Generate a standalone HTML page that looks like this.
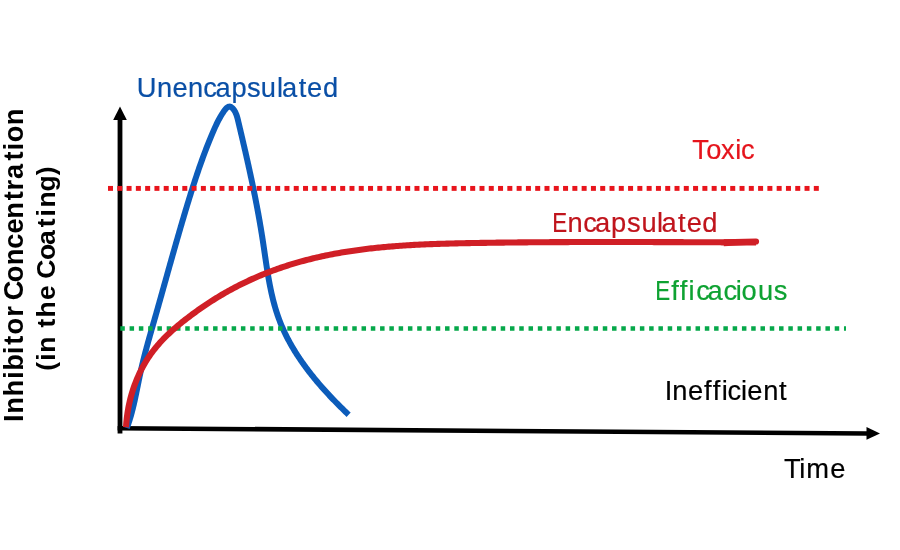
<!DOCTYPE html>
<html><head><meta charset="utf-8"><style>
html,body{margin:0;padding:0;background:#fff;}
svg{display:block;will-change:transform;}
text{font-family:"Liberation Sans",sans-serif;}
</style></head><body>
<svg width="900" height="550" viewBox="0 0 900 550">
<rect width="900" height="550" fill="#fff"/>
<line x1="120" y1="433.5" x2="120" y2="118" stroke="#000" stroke-width="4.8"/>
<polygon points="120,106.5 113.2,120 126.8,120" fill="#000"/>
<polygon points="117.6,425.9 867,431.2 867,435.8 117.6,430.5" fill="#000"/>
<polygon points="880,433.4 866.5,427.1 866.5,439.8" fill="#000"/>
<path d="M126.80 428.00 L127.28 426.72 L127.75 425.44 L128.21 424.15 L128.65 422.86 L129.08 421.57 L129.50 420.27 L129.91 418.97 L130.31 417.66 L130.69 416.36 L131.07 415.05 L131.44 413.73 L131.79 412.42 L132.14 411.10 L132.48 409.78 L132.82 408.46 L133.14 407.14 L133.46 405.81 L133.77 404.48 L134.08 403.15 L134.38 401.82 L134.68 400.49 L134.97 399.16 L135.25 397.83 L135.54 396.49 L135.82 395.16 L136.09 393.82 L136.37 392.49 L136.64 391.15 L136.91 389.81 L137.18 388.48 L137.45 387.14 L137.72 385.81 L137.99 384.47 L138.26 383.14 L138.53 381.80 L138.80 380.47 L139.08 379.13 L139.35 377.80 L139.63 376.47 L139.91 375.13 L140.20 373.80 L140.48 372.47 L140.77 371.14 L141.07 369.81 L141.37 368.49 L141.67 367.16 L141.98 365.83 L142.29 364.51 L142.61 363.18 L142.93 361.86 L143.25 360.53 L143.58 359.21 L143.91 357.89 L144.25 356.57 L144.58 355.25 L144.93 353.93 L145.27 352.61 L145.62 351.29 L145.97 349.97 L146.32 348.66 L146.67 347.34 L147.03 346.02 L147.39 344.71 L147.75 343.39 L148.11 342.08 L148.47 340.76 L148.84 339.45 L149.21 338.14 L149.58 336.82 L149.95 335.51 L150.32 334.20 L150.69 332.88 L151.06 331.57 L151.43 330.26 L151.81 328.95 L152.18 327.64 L152.56 326.32 L152.93 325.01 L153.31 323.70 L153.68 322.39 L154.06 321.08 L154.43 319.77 L154.81 318.45 L155.18 317.14 L155.55 315.83 L155.93 314.52 L156.30 313.21 L156.67 311.90 L157.04 310.58 L157.41 309.27 L157.78 307.96 L158.15 306.65 L158.52 305.34 L158.89 304.03 L159.26 302.71 L159.63 301.40 L160.00 300.09 L160.37 298.78 L160.74 297.47 L161.11 296.16 L161.48 294.84 L161.85 293.53 L162.21 292.22 L162.58 290.91 L162.95 289.60 L163.32 288.29 L163.69 286.97 L164.05 285.66 L164.42 284.35 L164.79 283.04 L165.16 281.73 L165.52 280.42 L165.89 279.10 L166.26 277.79 L166.63 276.48 L166.99 275.17 L167.36 273.86 L167.73 272.55 L168.10 271.24 L168.47 269.92 L168.83 268.61 L169.20 267.30 L169.57 265.99 L169.94 264.68 L170.31 263.37 L170.68 262.06 L171.05 260.75 L171.42 259.43 L171.79 258.12 L172.16 256.81 L172.53 255.50 L172.90 254.19 L173.27 252.88 L173.65 251.57 L174.02 250.26 L174.39 248.95 L174.76 247.64 L175.14 246.33 L175.51 245.02 L175.89 243.71 L176.26 242.40 L176.64 241.09 L177.01 239.78 L177.39 238.47 L177.77 237.16 L178.14 235.85 L178.52 234.54 L178.90 233.23 L179.28 231.92 L179.66 230.61 L180.04 229.30 L180.42 228.00 L180.80 226.69 L181.19 225.38 L181.57 224.07 L181.95 222.76 L182.34 221.45 L182.72 220.14 L183.11 218.84 L183.50 217.53 L183.89 216.22 L184.27 214.91 L184.66 213.60 L185.05 212.30 L185.45 210.99 L185.84 209.68 L186.23 208.37 L186.63 207.07 L187.02 205.76 L187.42 204.45 L187.81 203.15 L188.21 201.84 L188.61 200.54 L189.01 199.23 L189.42 197.93 L189.82 196.62 L190.22 195.32 L190.63 194.01 L191.04 192.71 L191.45 191.41 L191.86 190.11 L192.27 188.80 L192.69 187.50 L193.10 186.20 L193.52 184.90 L193.94 183.60 L194.36 182.31 L194.78 181.01 L195.21 179.71 L195.64 178.42 L196.07 177.12 L196.50 175.83 L196.93 174.54 L197.37 173.24 L197.80 171.95 L198.24 170.66 L198.69 169.37 L199.13 168.09 L199.58 166.80 L200.03 165.51 L200.48 164.23 L200.94 162.95 L201.39 161.67 L201.85 160.38 L202.32 159.11 L202.78 157.83 L203.25 156.55 L203.72 155.28 L204.19 154.00 L204.67 152.73 L205.15 151.46 L205.63 150.19 L206.12 148.92 L206.61 147.66 L207.10 146.39 L207.60 145.13 L208.10 143.87 L208.60 142.61 L209.10 141.35 L209.61 140.09 L210.13 138.84 L210.64 137.59 L211.16 136.34 L211.68 135.09 L212.21 133.84 L212.74 132.59 L213.28 131.35 L213.82 130.11 L214.36 128.87 L214.92 127.63 L215.48 126.39 L216.06 125.16 L216.66 123.92 L217.26 122.69 L217.89 121.45 L218.53 120.22 L219.19 118.98 L219.88 117.75 L220.58 116.51 L221.32 115.27 L222.08 114.03 L222.86 112.79 L223.68 111.56 L224.52 110.38 L225.38 109.28 L226.27 108.31 L227.16 107.52 L228.07 106.95 L228.99 106.63 L229.90 106.62 L230.82 106.90 L231.71 107.44 L232.59 108.21 L233.42 109.16 L234.20 110.26 L234.92 111.47 L235.57 112.75 L236.13 114.06 L236.63 115.41 L237.07 116.78 L237.46 118.16 L237.82 119.55 L238.16 120.94 L238.49 122.33 L238.81 123.72 L239.14 125.09 L239.46 126.46 L239.78 127.82 L240.10 129.17 L240.41 130.52 L240.73 131.86 L241.04 133.20 L241.36 134.53 L241.67 135.86 L241.98 137.19 L242.29 138.51 L242.60 139.83 L242.91 141.15 L243.22 142.47 L243.52 143.79 L243.83 145.11 L244.13 146.43 L244.44 147.75 L244.74 149.06 L245.05 150.38 L245.35 151.70 L245.65 153.02 L245.95 154.34 L246.25 155.66 L246.55 156.98 L246.85 158.31 L247.15 159.63 L247.44 160.95 L247.74 162.27 L248.03 163.59 L248.33 164.91 L248.62 166.24 L248.91 167.56 L249.20 168.88 L249.49 170.21 L249.78 171.53 L250.07 172.86 L250.35 174.18 L250.64 175.51 L250.92 176.83 L251.21 178.16 L251.49 179.49 L251.77 180.82 L252.05 182.14 L252.33 183.47 L252.61 184.80 L252.88 186.13 L253.16 187.46 L253.43 188.79 L253.70 190.12 L253.97 191.45 L254.24 192.78 L254.51 194.12 L254.78 195.45 L255.04 196.78 L255.31 198.12 L255.57 199.45 L255.83 200.78 L256.09 202.12 L256.35 203.46 L256.61 204.79 L256.86 206.13 L257.11 207.47 L257.36 208.81 L257.61 210.15 L257.86 211.49 L258.11 212.83 L258.36 214.17 L258.60 215.51 L258.84 216.85 L259.08 218.20 L259.32 219.54 L259.56 220.88 L259.79 222.23 L260.02 223.58 L260.25 224.92 L260.48 226.27 L260.71 227.62 L260.94 228.97 L261.16 230.32 L261.38 231.67 L261.60 233.02 L261.82 234.37 L262.03 235.72 L262.25 237.08 L262.46 238.43 L262.67 239.79 L262.88 241.14 L263.08 242.50 L263.29 243.86 L263.49 245.22 L263.69 246.58 L263.89 247.93 L264.09 249.29 L264.29 250.65 L264.49 252.01 L264.69 253.37 L264.89 254.73 L265.09 256.09 L265.29 257.45 L265.49 258.81 L265.69 260.17 L265.89 261.53 L266.09 262.89 L266.30 264.25 L266.51 265.61 L266.71 266.97 L266.93 268.32 L267.14 269.68 L267.36 271.03 L267.58 272.39 L267.80 273.74 L268.03 275.09 L268.26 276.44 L268.49 277.79 L268.73 279.14 L268.97 280.48 L269.21 281.83 L269.46 283.17 L269.72 284.51 L269.98 285.85 L270.25 287.19 L270.52 288.52 L270.80 289.86 L271.08 291.19 L271.37 292.52 L271.66 293.84 L271.97 295.17 L272.27 296.49 L272.59 297.81 L272.91 299.13 L273.25 300.44 L273.58 301.75 L273.93 303.06 L274.28 304.37 L274.65 305.67 L275.02 306.97 L275.40 308.27 L275.79 309.56 L276.19 310.86 L276.59 312.14 L277.01 313.43 L277.44 314.71 L277.88 315.98 L278.32 317.26 L278.78 318.53 L279.25 319.79 L279.73 321.05 L280.22 322.31 L280.72 323.56 L281.24 324.81 L281.76 326.06 L282.29 327.30 L282.83 328.54 L283.39 329.77 L283.95 331.00 L284.52 332.23 L285.11 333.45 L285.70 334.67 L286.30 335.88 L286.91 337.10 L287.53 338.30 L288.16 339.50 L288.80 340.70 L289.45 341.90 L290.11 343.09 L290.77 344.27 L291.45 345.46 L292.13 346.64 L292.82 347.81 L293.52 348.98 L294.23 350.15 L294.94 351.31 L295.66 352.47 L296.39 353.63 L297.13 354.78 L297.88 355.93 L298.63 357.07 L299.39 358.21 L300.15 359.34 L300.93 360.48 L301.71 361.60 L302.50 362.73 L303.29 363.85 L304.09 364.96 L304.90 366.07 L305.71 367.18 L306.53 368.28 L307.35 369.38 L308.18 370.48 L309.02 371.57 L309.86 372.66 L310.71 373.74 L311.56 374.82 L312.42 375.90 L313.28 376.97 L314.15 378.04 L315.02 379.10 L315.90 380.16 L316.78 381.22 L317.67 382.27 L318.56 383.32 L319.45 384.36 L320.35 385.40 L321.26 386.44 L322.16 387.47 L323.07 388.50 L323.99 389.53 L324.91 390.55 L325.83 391.56 L326.75 392.57 L327.68 393.58 L328.61 394.59 L329.55 395.59 L330.48 396.58 L331.42 397.58 L332.36 398.56 L333.31 399.55 L334.25 400.53 L335.20 401.50 L336.15 402.48 L337.10 403.44 L338.06 404.41 L339.01 405.37 L339.97 406.33 L340.93 407.28 L341.89 408.23 L342.85 409.17 L343.81 410.11 L344.78 411.05 L345.74 411.98 L346.71 412.91 L347.67 413.83 L348.64 414.75" fill="none" stroke="#0c5cba" stroke-width="6.0" stroke-linejoin="round"/>
<g fill="#06a84a"><rect x="120.30" y="326.25" width="4.50" height="4.50"/><rect x="129.58" y="326.25" width="4.50" height="4.50"/><rect x="138.86" y="326.25" width="4.50" height="4.50"/><rect x="148.13" y="326.25" width="4.50" height="4.50"/><rect x="157.41" y="326.25" width="4.50" height="4.50"/><rect x="166.69" y="326.25" width="4.50" height="4.50"/><rect x="175.97" y="326.25" width="4.50" height="4.50"/><rect x="185.25" y="326.25" width="4.50" height="4.50"/><rect x="194.52" y="326.25" width="4.50" height="4.50"/><rect x="203.80" y="326.25" width="4.50" height="4.50"/><rect x="213.08" y="326.25" width="4.50" height="4.50"/><rect x="222.36" y="326.25" width="4.50" height="4.50"/><rect x="231.64" y="326.25" width="4.50" height="4.50"/><rect x="240.91" y="326.25" width="4.50" height="4.50"/><rect x="250.19" y="326.25" width="4.50" height="4.50"/><rect x="259.47" y="326.25" width="4.50" height="4.50"/><rect x="268.75" y="326.25" width="4.50" height="4.50"/><rect x="278.03" y="326.25" width="4.50" height="4.50"/><rect x="287.30" y="326.25" width="4.50" height="4.50"/><rect x="296.58" y="326.25" width="4.50" height="4.50"/><rect x="305.86" y="326.25" width="4.50" height="4.50"/><rect x="315.14" y="326.25" width="4.50" height="4.50"/><rect x="324.42" y="326.25" width="4.50" height="4.50"/><rect x="333.69" y="326.25" width="4.50" height="4.50"/><rect x="342.97" y="326.25" width="4.50" height="4.50"/><rect x="352.25" y="326.25" width="4.50" height="4.50"/><rect x="361.53" y="326.25" width="4.50" height="4.50"/><rect x="370.81" y="326.25" width="4.50" height="4.50"/><rect x="380.08" y="326.25" width="4.50" height="4.50"/><rect x="389.36" y="326.25" width="4.50" height="4.50"/><rect x="398.64" y="326.25" width="4.50" height="4.50"/><rect x="407.92" y="326.25" width="4.50" height="4.50"/><rect x="417.20" y="326.25" width="4.50" height="4.50"/><rect x="426.47" y="326.25" width="4.50" height="4.50"/><rect x="435.75" y="326.25" width="4.50" height="4.50"/><rect x="445.03" y="326.25" width="4.50" height="4.50"/><rect x="454.31" y="326.25" width="4.50" height="4.50"/><rect x="463.59" y="326.25" width="4.50" height="4.50"/><rect x="472.86" y="326.25" width="4.50" height="4.50"/><rect x="482.14" y="326.25" width="4.50" height="4.50"/><rect x="491.42" y="326.25" width="4.50" height="4.50"/><rect x="500.70" y="326.25" width="4.50" height="4.50"/><rect x="509.98" y="326.25" width="4.50" height="4.50"/><rect x="519.25" y="326.25" width="4.50" height="4.50"/><rect x="528.53" y="326.25" width="4.50" height="4.50"/><rect x="537.81" y="326.25" width="4.50" height="4.50"/><rect x="547.09" y="326.25" width="4.50" height="4.50"/><rect x="556.37" y="326.25" width="4.50" height="4.50"/><rect x="565.64" y="326.25" width="4.50" height="4.50"/><rect x="574.92" y="326.25" width="4.50" height="4.50"/><rect x="584.20" y="326.25" width="4.50" height="4.50"/><rect x="593.48" y="326.25" width="4.50" height="4.50"/><rect x="602.76" y="326.25" width="4.50" height="4.50"/><rect x="612.03" y="326.25" width="4.50" height="4.50"/><rect x="621.31" y="326.25" width="4.50" height="4.50"/><rect x="630.59" y="326.25" width="4.50" height="4.50"/><rect x="639.87" y="326.25" width="4.50" height="4.50"/><rect x="649.15" y="326.25" width="4.50" height="4.50"/><rect x="658.42" y="326.25" width="4.50" height="4.50"/><rect x="667.70" y="326.25" width="4.50" height="4.50"/><rect x="676.98" y="326.25" width="4.50" height="4.50"/><rect x="686.26" y="326.25" width="4.50" height="4.50"/><rect x="695.54" y="326.25" width="4.50" height="4.50"/><rect x="704.81" y="326.25" width="4.50" height="4.50"/><rect x="714.09" y="326.25" width="4.50" height="4.50"/><rect x="723.37" y="326.25" width="4.50" height="4.50"/><rect x="732.65" y="326.25" width="4.50" height="4.50"/><rect x="741.93" y="326.25" width="4.50" height="4.50"/><rect x="751.20" y="326.25" width="4.50" height="4.50"/><rect x="760.48" y="326.25" width="4.50" height="4.50"/><rect x="769.76" y="326.25" width="4.50" height="4.50"/><rect x="779.04" y="326.25" width="4.50" height="4.50"/><rect x="788.32" y="326.25" width="4.50" height="4.50"/><rect x="797.59" y="326.25" width="4.50" height="4.50"/><rect x="806.87" y="326.25" width="4.50" height="4.50"/><rect x="816.15" y="326.25" width="4.50" height="4.50"/><rect x="825.43" y="326.25" width="4.50" height="4.50"/><rect x="834.71" y="326.25" width="4.50" height="4.50"/><rect x="843.98" y="326.25" width="2.02" height="4.50"/></g>
<path d="M126.01 427.24 L126.13 425.41 L126.27 423.59 L126.42 421.77 L126.61 419.95 L126.81 418.14 L127.03 416.34 L127.27 414.53 L127.54 412.74 L127.82 410.94 L128.13 409.16 L128.46 407.37 L128.81 405.60 L129.18 403.83 L129.57 402.07 L129.99 400.31 L130.42 398.56 L130.88 396.82 L131.35 395.09 L131.85 393.36 L132.37 391.65 L132.91 389.94 L133.47 388.24 L134.05 386.55 L134.66 384.86 L135.28 383.19 L135.93 381.53 L136.59 379.88 L137.28 378.23 L137.99 376.60 L138.72 374.98 L139.47 373.37 L140.24 371.77 L141.03 370.19 L141.85 368.61 L142.68 367.05 L143.54 365.50 L144.41 363.96 L145.31 362.44 L146.23 360.93 L147.17 359.43 L148.13 357.94 L149.11 356.47 L150.11 355.02 L151.14 353.58 L152.18 352.15 L153.25 350.74 L154.33 349.35 L155.44 347.97 L156.56 346.60 L157.71 345.25 L158.87 343.91 L160.05 342.59 L161.25 341.28 L162.47 339.99 L163.70 338.71 L164.95 337.44 L166.22 336.18 L167.49 334.94 L168.79 333.70 L170.09 332.48 L171.41 331.27 L172.74 330.08 L174.09 328.89 L175.44 327.71 L176.81 326.55 L178.18 325.39 L179.57 324.24 L180.96 323.11 L182.36 321.98 L183.77 320.86 L185.19 319.75 L186.61 318.65 L188.04 317.55 L189.48 316.46 L190.92 315.38 L192.37 314.31 L193.82 313.25 L195.27 312.19 L196.73 311.14 L198.19 310.10 L199.66 309.06 L201.14 308.03 L202.61 307.01 L204.10 306.00 L205.59 305.00 L207.08 304.00 L208.58 303.02 L210.08 302.04 L211.59 301.06 L213.10 300.10 L214.62 299.15 L216.14 298.20 L217.67 297.26 L219.20 296.33 L220.73 295.41 L222.28 294.50 L223.82 293.60 L225.37 292.70 L226.93 291.82 L228.49 290.94 L230.06 290.07 L231.63 289.22 L233.21 288.37 L234.79 287.53 L236.38 286.70 L237.97 285.87 L239.57 285.06 L241.17 284.26 L242.77 283.47 L244.39 282.68 L246.00 281.91 L247.62 281.14 L249.25 280.39 L250.88 279.64 L252.51 278.90 L254.15 278.17 L255.79 277.45 L257.43 276.74 L259.08 276.04 L260.73 275.35 L262.39 274.67 L264.05 273.99 L265.71 273.33 L267.38 272.67 L269.05 272.03 L270.72 271.39 L272.40 270.76 L274.08 270.14 L275.76 269.53 L277.45 268.93 L279.14 268.34 L280.83 267.75 L282.52 267.18 L284.22 266.61 L285.92 266.05 L287.62 265.50 L289.32 264.96 L291.03 264.43 L292.74 263.91 L294.45 263.40 L296.16 262.89 L297.88 262.40 L299.59 261.91 L301.31 261.43 L303.03 260.96 L304.75 260.50 L306.47 260.05 L308.20 259.60 L309.93 259.17 L311.65 258.74 L313.39 258.32 L315.12 257.90 L316.85 257.50 L318.59 257.10 L320.32 256.71 L322.06 256.33 L323.80 255.95 L325.54 255.59 L327.29 255.23 L329.03 254.87 L330.78 254.53 L332.53 254.19 L334.28 253.86 L336.03 253.53 L337.78 253.22 L339.53 252.91 L341.29 252.60 L343.04 252.31 L344.80 252.01 L346.56 251.73 L348.32 251.45 L350.08 251.18 L351.84 250.91 L353.61 250.66 L355.37 250.40 L357.14 250.15 L358.91 249.91 L360.68 249.68 L362.44 249.45 L364.22 249.22 L365.99 249.00 L367.76 248.79 L369.53 248.58 L371.31 248.38 L373.08 248.18 L374.86 247.99 L376.64 247.81 L378.42 247.62 L380.20 247.45 L381.98 247.27 L383.76 247.11 L385.54 246.94 L387.32 246.79 L389.11 246.63 L390.89 246.48 L392.68 246.34 L394.46 246.20 L396.25 246.06 L398.04 245.93 L399.82 245.80 L401.61 245.68 L403.40 245.56 L405.19 245.44 L406.98 245.33 L408.77 245.22 L410.56 245.11 L412.35 245.01 L414.15 244.91 L415.94 244.82 L417.73 244.73 L419.52 244.64 L421.32 244.55 L423.11 244.47 L424.91 244.39 L426.70 244.31 L428.50 244.24 L430.29 244.17 L432.09 244.10 L433.88 244.03 L435.68 243.97 L437.47 243.90 L439.27 243.84 L441.07 243.79 L442.86 243.73 L444.66 243.68 L446.46 243.63 L448.25 243.58 L450.05 243.53 L451.85 243.48 L453.64 243.44 L455.44 243.40 L457.24 243.36 L459.03 243.32 L460.83 243.28 L462.63 243.24 L464.42 243.20 L466.22 243.17 L468.02 243.13 L469.81 243.10 L471.61 243.07 L473.40 243.04 L475.20 243.00 L476.99 242.97 L478.79 242.94 L480.58 242.91 L482.37 242.89 L484.17 242.86 L485.96 242.83 L487.75 242.80 L489.54 242.78 L491.34 242.75 L493.13 242.72 L494.92 242.70 L496.71 242.67 L498.50 242.65 L500.29 242.63 L502.09 242.60 L503.88 242.58 L505.67 242.56 L507.46 242.54 L509.25 242.52 L511.04 242.50 L512.83 242.48 L514.62 242.46 L516.40 242.44 L518.19 242.42 L519.98 242.40 L521.77 242.38 L523.56 242.37 L525.35 242.35 L527.13 242.34 L528.92 242.32 L530.71 242.30 L532.50 242.29 L534.28 242.27 L536.07 242.26 L537.86 242.25 L539.65 242.23 L541.43 242.22 L543.22 242.21 L545.00 242.20 L546.79 242.19 L548.58 242.18 L550.36 242.16 L552.15 242.15 L553.93 242.14 L555.72 242.14 L557.51 242.13 L559.29 242.12 L561.08 242.11 L562.86 242.10 L564.65 242.09 L566.43 242.09 L568.22 242.08 L570.00 242.07 L571.79 242.07 L573.57 242.06 L575.36 242.06 L577.14 242.05 L578.93 242.05 L580.71 242.04 L582.50 242.04 L584.28 242.03 L586.07 242.03 L587.85 242.03 L589.63 242.02 L591.42 242.02 L593.20 242.02 L594.99 242.02 L596.77 242.01 L598.56 242.01 L600.34 242.01 L602.13 242.01 L603.91 242.01 L605.69 242.01 L607.48 242.01 L609.26 242.01 L611.05 242.01 L612.83 242.01 L614.62 242.01 L616.40 242.01 L618.19 242.01 L619.97 242.01 L621.76 242.02 L623.54 242.02 L625.33 242.02 L627.11 242.02 L628.90 242.02 L630.68 242.03 L632.47 242.03 L634.25 242.03 L636.04 242.04 L637.82 242.04 L639.61 242.04 L641.39 242.05 L643.18 242.05 L644.97 242.06 L646.75 242.06 L648.54 242.06 L650.32 242.07 L652.11 242.07 L653.90 242.08 L655.68 242.08 L657.47 242.09 L659.26 242.10 L661.05 242.10 L662.83 242.11 L664.62 242.11 L666.41 242.12 L668.20 242.12 L669.98 242.13 L671.77 242.14 L673.56 242.14 L675.35 242.15 L677.14 242.16 L678.93 242.16 L680.72 242.17 L682.50 242.17 L684.29 242.18 L686.08 242.19 L687.87 242.20 L689.66 242.20 L691.45 242.21 L693.25 242.22 L695.04 242.22 L696.83 242.23 L698.62 242.24 L700.41 242.24 L702.20 242.25 L703.99 242.26 L705.79 242.27 L707.58 242.27 L709.37 242.28 L711.17 242.29 L712.96 242.30 L714.75 242.30 L716.55 242.31 L718.34 242.32 L720.14 242.32 L721.93 242.33 L723.73 242.34 L725.52 242.35 L727.32 242.35 L729.11 242.36 L730.91 242.37 L732.71 242.37 L734.51 242.38 L736.30 242.39 L738.10 242.39 L739.90 242.40 L741.70 242.41 L743.50 242.41 L745.30 242.42 L747.10 242.43 L748.90 242.43 L750.70 242.44 L752.50 242.45 L754.30 242.45 L756.10 242.46" fill="none" stroke="#d01f26" stroke-width="6.1" stroke-linejoin="round"/>
<path d="M723.8 239.3 L756 238.4 A3.1 3.1 0 0 1 756 244.6 L723.8 246.2 Z" fill="#d01f26"/>
<g fill="#e8141c"><rect x="108.00" y="185.95" width="5.00" height="4.90"/><rect x="117.29" y="185.95" width="5.00" height="4.90"/><rect x="126.57" y="185.95" width="5.00" height="4.90"/><rect x="135.86" y="185.95" width="5.00" height="4.90"/><rect x="145.15" y="185.95" width="5.00" height="4.90"/><rect x="154.44" y="185.95" width="5.00" height="4.90"/><rect x="163.72" y="185.95" width="5.00" height="4.90"/><rect x="173.01" y="185.95" width="5.00" height="4.90"/><rect x="182.30" y="185.95" width="5.00" height="4.90"/><rect x="191.58" y="185.95" width="5.00" height="4.90"/><rect x="200.87" y="185.95" width="5.00" height="4.90"/><rect x="210.16" y="185.95" width="5.00" height="4.90"/><rect x="219.44" y="185.95" width="5.00" height="4.90"/><rect x="228.73" y="185.95" width="5.00" height="4.90"/><rect x="238.02" y="185.95" width="5.00" height="4.90"/><rect x="247.31" y="185.95" width="5.00" height="4.90"/><rect x="256.59" y="185.95" width="5.00" height="4.90"/><rect x="265.88" y="185.95" width="5.00" height="4.90"/><rect x="275.17" y="185.95" width="5.00" height="4.90"/><rect x="284.45" y="185.95" width="5.00" height="4.90"/><rect x="293.74" y="185.95" width="5.00" height="4.90"/><rect x="303.03" y="185.95" width="5.00" height="4.90"/><rect x="312.31" y="185.95" width="5.00" height="4.90"/><rect x="321.60" y="185.95" width="5.00" height="4.90"/><rect x="330.89" y="185.95" width="5.00" height="4.90"/><rect x="340.18" y="185.95" width="5.00" height="4.90"/><rect x="349.46" y="185.95" width="5.00" height="4.90"/><rect x="358.75" y="185.95" width="5.00" height="4.90"/><rect x="368.04" y="185.95" width="5.00" height="4.90"/><rect x="377.32" y="185.95" width="5.00" height="4.90"/><rect x="386.61" y="185.95" width="5.00" height="4.90"/><rect x="395.90" y="185.95" width="5.00" height="4.90"/><rect x="405.18" y="185.95" width="5.00" height="4.90"/><rect x="414.47" y="185.95" width="5.00" height="4.90"/><rect x="423.76" y="185.95" width="5.00" height="4.90"/><rect x="433.05" y="185.95" width="5.00" height="4.90"/><rect x="442.33" y="185.95" width="5.00" height="4.90"/><rect x="451.62" y="185.95" width="5.00" height="4.90"/><rect x="460.91" y="185.95" width="5.00" height="4.90"/><rect x="470.19" y="185.95" width="5.00" height="4.90"/><rect x="479.48" y="185.95" width="5.00" height="4.90"/><rect x="488.77" y="185.95" width="5.00" height="4.90"/><rect x="498.05" y="185.95" width="5.00" height="4.90"/><rect x="507.34" y="185.95" width="5.00" height="4.90"/><rect x="516.63" y="185.95" width="5.00" height="4.90"/><rect x="525.91" y="185.95" width="5.00" height="4.90"/><rect x="535.20" y="185.95" width="5.00" height="4.90"/><rect x="544.49" y="185.95" width="5.00" height="4.90"/><rect x="553.78" y="185.95" width="5.00" height="4.90"/><rect x="563.06" y="185.95" width="5.00" height="4.90"/><rect x="572.35" y="185.95" width="5.00" height="4.90"/><rect x="581.64" y="185.95" width="5.00" height="4.90"/><rect x="590.92" y="185.95" width="5.00" height="4.90"/><rect x="600.21" y="185.95" width="5.00" height="4.90"/><rect x="609.50" y="185.95" width="5.00" height="4.90"/><rect x="618.79" y="185.95" width="5.00" height="4.90"/><rect x="628.07" y="185.95" width="5.00" height="4.90"/><rect x="637.36" y="185.95" width="5.00" height="4.90"/><rect x="646.65" y="185.95" width="5.00" height="4.90"/><rect x="655.93" y="185.95" width="5.00" height="4.90"/><rect x="665.22" y="185.95" width="5.00" height="4.90"/><rect x="674.51" y="185.95" width="5.00" height="4.90"/><rect x="683.79" y="185.95" width="5.00" height="4.90"/><rect x="693.08" y="185.95" width="5.00" height="4.90"/><rect x="702.37" y="185.95" width="5.00" height="4.90"/><rect x="711.66" y="185.95" width="5.00" height="4.90"/><rect x="720.94" y="185.95" width="5.00" height="4.90"/><rect x="730.23" y="185.95" width="5.00" height="4.90"/><rect x="739.52" y="185.95" width="5.00" height="4.90"/><rect x="748.80" y="185.95" width="5.00" height="4.90"/><rect x="758.09" y="185.95" width="5.00" height="4.90"/><rect x="767.38" y="185.95" width="5.00" height="4.90"/><rect x="776.66" y="185.95" width="5.00" height="4.90"/><rect x="785.95" y="185.95" width="5.00" height="4.90"/><rect x="795.24" y="185.95" width="5.00" height="4.90"/><rect x="804.53" y="185.95" width="5.00" height="4.90"/><rect x="813.81" y="185.95" width="5.00" height="4.90"/></g>
<g font-size="27.3" fill="#0a4fa6" stroke="#0a4fa6" stroke-width="0.2"><text x="136.79" y="96.70" textLength="19.72" lengthAdjust="spacingAndGlyphs">U</text><text x="157.09" y="96.70" textLength="15.18" lengthAdjust="spacingAndGlyphs">n</text><text x="172.44" y="96.70" textLength="15.18" lengthAdjust="spacingAndGlyphs">e</text><text x="187.89" y="96.70" textLength="15.18" lengthAdjust="spacingAndGlyphs">n</text><text x="203.31" y="96.70" textLength="13.65" lengthAdjust="spacingAndGlyphs">c</text><text x="215.48" y="96.70" textLength="15.18" lengthAdjust="spacingAndGlyphs">a</text><text x="231.40" y="96.70" textLength="15.18" lengthAdjust="spacingAndGlyphs">p</text><text x="246.89" y="96.70" textLength="13.65" lengthAdjust="spacingAndGlyphs">s</text><text x="260.78" y="96.70" textLength="15.18" lengthAdjust="spacingAndGlyphs">u</text><text x="276.96" y="96.70" textLength="6.07" lengthAdjust="spacingAndGlyphs">l</text><text x="282.03" y="96.70" textLength="15.18" lengthAdjust="spacingAndGlyphs">a</text><text x="298.80" y="96.70" textLength="7.58" lengthAdjust="spacingAndGlyphs">t</text><text x="307.09" y="96.70" textLength="15.18" lengthAdjust="spacingAndGlyphs">e</text><text x="323.07" y="96.70" textLength="15.18" lengthAdjust="spacingAndGlyphs">d</text></g>
<g font-size="27.3" fill="#c0141c" stroke="#c0141c" stroke-width="0.2"><text x="552.30" y="232.40" textLength="14.93" lengthAdjust="spacingAndGlyphs">E</text><text x="567.54" y="232.40" textLength="15.18" lengthAdjust="spacingAndGlyphs">n</text><text x="583.26" y="232.40" textLength="13.65" lengthAdjust="spacingAndGlyphs">c</text><text x="595.03" y="232.40" textLength="15.18" lengthAdjust="spacingAndGlyphs">a</text><text x="611.10" y="232.40" textLength="15.18" lengthAdjust="spacingAndGlyphs">p</text><text x="626.99" y="232.40" textLength="13.65" lengthAdjust="spacingAndGlyphs">s</text><text x="641.43" y="232.40" textLength="15.18" lengthAdjust="spacingAndGlyphs">u</text><text x="656.96" y="232.40" textLength="6.07" lengthAdjust="spacingAndGlyphs">l</text><text x="661.48" y="232.40" textLength="15.18" lengthAdjust="spacingAndGlyphs">a</text><text x="678.10" y="232.40" textLength="7.58" lengthAdjust="spacingAndGlyphs">t</text><text x="686.79" y="232.40" textLength="15.18" lengthAdjust="spacingAndGlyphs">e</text><text x="702.37" y="232.40" textLength="15.18" lengthAdjust="spacingAndGlyphs">d</text></g>
<g font-size="27.3" fill="#e5141c" stroke="#e5141c" stroke-width="0.2"><text x="692.17" y="158.50" textLength="16.68" lengthAdjust="spacingAndGlyphs">T</text><text x="706.16" y="158.50" textLength="15.18" lengthAdjust="spacingAndGlyphs">o</text><text x="720.92" y="158.50" textLength="13.65" lengthAdjust="spacingAndGlyphs">x</text><text x="735.22" y="158.50" textLength="6.07" lengthAdjust="spacingAndGlyphs">i</text><text x="740.91" y="158.50" textLength="13.65" lengthAdjust="spacingAndGlyphs">c</text></g>
<g font-size="27.3" fill="#0ea232" stroke="#0ea232" stroke-width="0.2"><text x="655.35" y="299.80" textLength="14.93" lengthAdjust="spacingAndGlyphs">E</text><text x="671.34" y="299.80" textLength="7.58" lengthAdjust="spacingAndGlyphs">f</text><text x="679.64" y="299.80" textLength="7.58" lengthAdjust="spacingAndGlyphs">f</text><text x="688.42" y="299.80" textLength="6.07" lengthAdjust="spacingAndGlyphs">i</text><text x="696.31" y="299.80" textLength="13.65" lengthAdjust="spacingAndGlyphs">c</text><text x="707.38" y="299.80" textLength="15.18" lengthAdjust="spacingAndGlyphs">a</text><text x="723.41" y="299.80" textLength="13.65" lengthAdjust="spacingAndGlyphs">c</text><text x="735.77" y="299.80" textLength="6.07" lengthAdjust="spacingAndGlyphs">i</text><text x="741.51" y="299.80" textLength="15.18" lengthAdjust="spacingAndGlyphs">o</text><text x="757.88" y="299.80" textLength="15.18" lengthAdjust="spacingAndGlyphs">u</text><text x="773.69" y="299.80" textLength="13.65" lengthAdjust="spacingAndGlyphs">s</text></g>
<g font-size="27.3" fill="#000" stroke="#000" stroke-width="0.2"><text x="664.66" y="399.80" textLength="7.58" lengthAdjust="spacingAndGlyphs">I</text><text x="672.24" y="399.80" textLength="15.18" lengthAdjust="spacingAndGlyphs">n</text><text x="687.89" y="399.80" textLength="15.18" lengthAdjust="spacingAndGlyphs">e</text><text x="703.89" y="399.80" textLength="7.58" lengthAdjust="spacingAndGlyphs">f</text><text x="712.84" y="399.80" textLength="7.58" lengthAdjust="spacingAndGlyphs">f</text><text x="721.72" y="399.80" textLength="6.07" lengthAdjust="spacingAndGlyphs">i</text><text x="727.46" y="399.80" textLength="13.65" lengthAdjust="spacingAndGlyphs">c</text><text x="740.92" y="399.80" textLength="6.07" lengthAdjust="spacingAndGlyphs">i</text><text x="747.29" y="399.80" textLength="15.18" lengthAdjust="spacingAndGlyphs">e</text><text x="763.19" y="399.80" textLength="15.18" lengthAdjust="spacingAndGlyphs">n</text><text x="778.95" y="399.80" textLength="7.58" lengthAdjust="spacingAndGlyphs">t</text></g>
<g font-size="27.3" fill="#000" stroke="#000" stroke-width="0.2"><text x="784.07" y="477.60" textLength="16.68" lengthAdjust="spacingAndGlyphs">T</text><text x="799.32" y="477.60" textLength="6.07" lengthAdjust="spacingAndGlyphs">i</text><text x="806.32" y="477.60" textLength="22.74" lengthAdjust="spacingAndGlyphs">m</text><text x="830.19" y="477.60" textLength="15.18" lengthAdjust="spacingAndGlyphs">e</text></g>
<g font-size="27.3" fill="#000" font-weight="bold" transform="rotate(-90)"><text x="-421.94" y="23.00" textLength="7.58" lengthAdjust="spacingAndGlyphs">I</text><text x="-413.74" y="23.00" textLength="16.68" lengthAdjust="spacingAndGlyphs">n</text><text x="-396.59" y="23.00" textLength="16.68" lengthAdjust="spacingAndGlyphs">h</text><text x="-378.88" y="23.00" textLength="7.58" lengthAdjust="spacingAndGlyphs">i</text><text x="-370.78" y="23.00" textLength="16.68" lengthAdjust="spacingAndGlyphs">b</text><text x="-354.13" y="23.00" textLength="7.58" lengthAdjust="spacingAndGlyphs">i</text><text x="-344.80" y="23.00" textLength="9.09" lengthAdjust="spacingAndGlyphs">t</text><text x="-334.44" y="23.00" textLength="16.68" lengthAdjust="spacingAndGlyphs">o</text><text x="-316.66" y="23.00" textLength="10.62" lengthAdjust="spacingAndGlyphs">r</text><text x="-300.19" y="23.00" textLength="19.72" lengthAdjust="spacingAndGlyphs">C</text><text x="-282.14" y="23.00" textLength="16.68" lengthAdjust="spacingAndGlyphs">o</text><text x="-265.29" y="23.00" textLength="16.68" lengthAdjust="spacingAndGlyphs">n</text><text x="-248.82" y="23.00" textLength="15.18" lengthAdjust="spacingAndGlyphs">c</text><text x="-233.56" y="23.00" textLength="15.18" lengthAdjust="spacingAndGlyphs">e</text><text x="-218.74" y="23.00" textLength="16.68" lengthAdjust="spacingAndGlyphs">n</text><text x="-200.35" y="23.00" textLength="9.09" lengthAdjust="spacingAndGlyphs">t</text><text x="-190.61" y="23.00" textLength="10.62" lengthAdjust="spacingAndGlyphs">r</text><text x="-179.08" y="23.00" textLength="15.18" lengthAdjust="spacingAndGlyphs">a</text><text x="-160.55" y="23.00" textLength="9.09" lengthAdjust="spacingAndGlyphs">t</text><text x="-150.38" y="23.00" textLength="7.58" lengthAdjust="spacingAndGlyphs">i</text><text x="-142.14" y="23.00" textLength="16.68" lengthAdjust="spacingAndGlyphs">o</text><text x="-125.29" y="23.00" textLength="16.68" lengthAdjust="spacingAndGlyphs">n</text></g>
<g font-size="26.5" fill="#000" font-weight="bold" transform="rotate(-90)"><text x="-370.71" y="55.00" textLength="8.82" lengthAdjust="spacingAndGlyphs">(</text><text x="-360.87" y="55.00" textLength="7.36" lengthAdjust="spacingAndGlyphs">i</text><text x="-352.80" y="55.00" textLength="16.19" lengthAdjust="spacingAndGlyphs">n</text><text x="-327.61" y="55.00" textLength="8.82" lengthAdjust="spacingAndGlyphs">t</text><text x="-317.50" y="55.00" textLength="16.19" lengthAdjust="spacingAndGlyphs">h</text><text x="-300.03" y="55.00" textLength="14.74" lengthAdjust="spacingAndGlyphs">e</text><text x="-278.65" y="55.00" textLength="19.14" lengthAdjust="spacingAndGlyphs">C</text><text x="-260.09" y="55.00" textLength="16.19" lengthAdjust="spacingAndGlyphs">o</text><text x="-245.09" y="55.00" textLength="14.74" lengthAdjust="spacingAndGlyphs">a</text><text x="-227.31" y="55.00" textLength="8.82" lengthAdjust="spacingAndGlyphs">t</text><text x="-216.47" y="55.00" textLength="7.36" lengthAdjust="spacingAndGlyphs">i</text><text x="-207.50" y="55.00" textLength="16.19" lengthAdjust="spacingAndGlyphs">n</text><text x="-191.55" y="55.00" textLength="16.19" lengthAdjust="spacingAndGlyphs">g</text><text x="-175.27" y="55.00" textLength="8.82" lengthAdjust="spacingAndGlyphs">)</text></g>
</svg>
</body></html>
